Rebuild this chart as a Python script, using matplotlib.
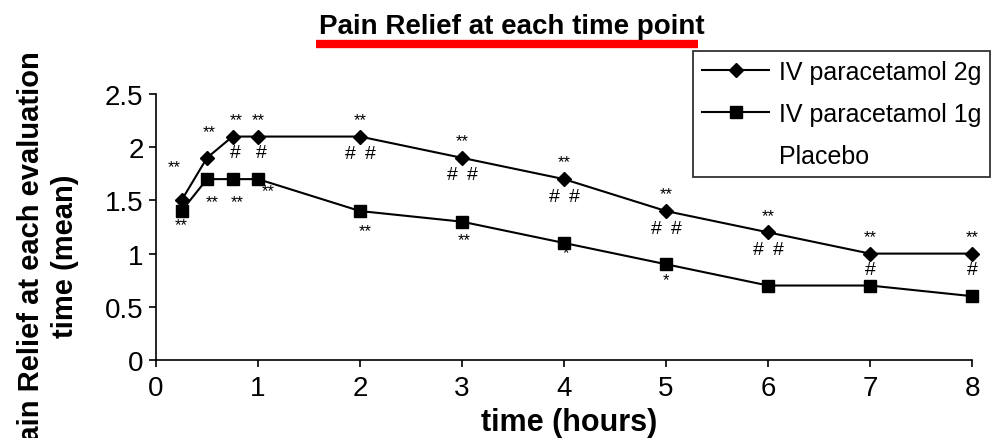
import matplotlib
matplotlib.use("Agg")
import matplotlib.pyplot as plt
from matplotlib.lines import Line2D

plt.rcParams['font.family'] = ['Liberation Sans', 'DejaVu Sans']

times = [0.25, 0.5, 0.75, 1, 2, 3, 4, 5, 6, 7, 8]
iv_2g = [1.5, 1.9, 2.1, 2.1, 2.1, 1.9, 1.7, 1.4, 1.2, 1.0, 1.0]
iv_1g = [1.4, 1.7, 1.7, 1.7, 1.4, 1.3, 1.1, 0.9, 0.7, 0.7, 0.6]
above_2g = ["**", "**", "**", "**", "**", "**", "**", "**", "**", "**", "**"]
below_2g = ["", "", "#", "#", "##", "##", "##", "##", "##", "#", "#"]
below_1g = ["**", "**", "**", "**", "**", "**", "*", "*", "", "", ""]
labels = ["IV paracetamol 2g", "IV paracetamol 1g", "Placebo"]
yticks = [0, 0.5, 1, 1.5, 2, 2.5]
ytick_labels = ["0", "0.5", "1", "1.5", "2", "2.5"]

PX = 0.72  # points per pixel at dpi 100

fig = plt.figure(figsize=(9.94, 4.39), dpi=100)
ax = fig.add_axes([156 / 994, 1 - 361 / 439, 816 / 994, 266 / 439])
ax.plot(times, iv_2g, color='black', lw=1.5, marker='D', ms=7, clip_on=False, zorder=3)
ax.plot(times, iv_1g, color='black', lw=1.5, marker='s', ms=8.5, clip_on=False, zorder=3)

ax.set_xlim(0, 8)
ax.set_ylim(0, 2.5)
ax.set_xticks(range(0, 9))
ax.set_yticks(yticks)
ax.set_yticklabels(ytick_labels)
ax.spines['top'].set_visible(False)
ax.spines['right'].set_visible(False)
for s in ('left', 'bottom'):
    ax.spines[s].set_linewidth(1.2)
ax.tick_params(direction='out', length=5, width=1.2, labelsize=20)
ax.tick_params(axis='x', pad=6)
ax.tick_params(axis='y', pad=4)

# annotation offsets in pixels (dx, dy)
above_off = [(-7, 34), (2, 26), (4, 17), (0, 17), (0, 17), (0, 17), (0, 17),
             (0, 17), (0, 17), (0, 17), (0, 17)]
below1_off = [(0, -14), (5, -23), (5, -23), (10, -12), (5, -20), (2, -18),
              (2, -10), (0, -15), (0, 0), (0, 0), (0, 0)]

for i, t in enumerate(times):
    dx, dy = above_off[i]
    ax.annotate(above_2g[i], (t, iv_2g[i]), xytext=(dx * PX, dy * PX),
                textcoords='offset points', ha='center', va='center', fontsize=12)
    if below_2g[i] == "##":
        for sx in (-10, 10):
            ax.annotate("#", (t, iv_2g[i]), xytext=(sx * PX, -17 * PX),
                        textcoords='offset points', ha='center', va='center', fontsize=14)
    elif below_2g[i] == "#":
        ax.annotate("#", (t, iv_2g[i]), xytext=(3 * PX if i in (2, 3) else 0, -16 * PX),
                    textcoords='offset points', ha='center', va='center', fontsize=14)
    if below_1g[i]:
        dx, dy = below1_off[i]
        ax.annotate(below_1g[i], (t, iv_1g[i]), xytext=(dx * PX, dy * PX),
                    textcoords='offset points', ha='center', va='center', fontsize=12)

handles = [Line2D([], [], color='black', lw=1.5, marker='D', ms=7),
           Line2D([], [], color='black', lw=1.5, marker='s', ms=8.5),
           Line2D([], [], color='none')]
leg = fig.legend(handles, labels, loc='upper left', bbox_to_anchor=(693 / 994, 1 - 52 / 439),
                 borderaxespad=0, fontsize=18, frameon=True, fancybox=False,
                 edgecolor='black', handlelength=2.7, borderpad=0.35, labelspacing=0.72,
                 handletextpad=0.4)
leg.get_frame().set_linewidth(1.3)

fig.text(512 / 994, 1 - 27 / 439, "Pain Relief at each time point", ha='center',
         va='center', fontsize=20, fontweight='bold')
fig.add_artist(Line2D([316 / 994, 698 / 994], [1 - 45 / 439, 1 - 45 / 439],
                      color='red', lw=6, solid_capstyle='butt'))
fig.text(569 / 994, 1 - 423 / 439, "time (hours)", ha='center', va='center',
         fontsize=22, fontweight='bold')
fig.text(48 / 994, 1 - 256 / 439, "Pain Relief at each evaluation\ntime (mean)",
         rotation=90, ha='center', va='center', fontsize=21, fontweight='bold',
         multialignment='center', linespacing=1.25)

fig.savefig("out.png", dpi=100)
